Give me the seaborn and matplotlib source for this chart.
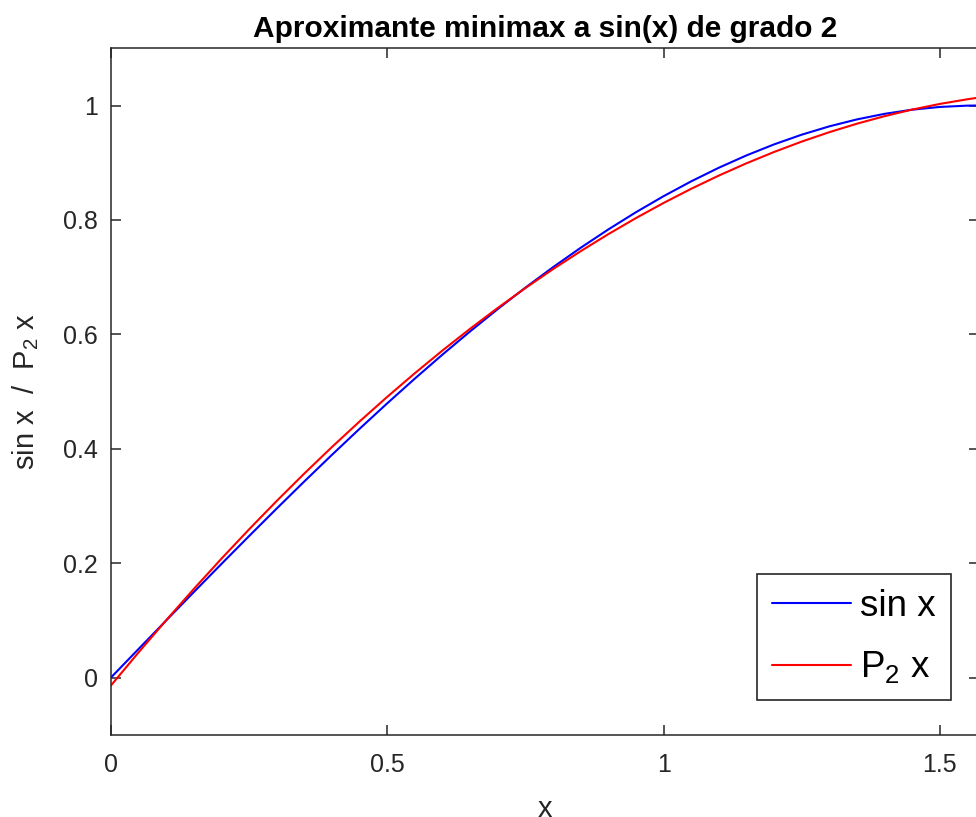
import matplotlib
matplotlib.use("Agg")
import matplotlib.pyplot as plt
import pandas as pd
import seaborn as sns

# ---- data ----
x_vals = [0.00, 0.05, 0.10, 0.15, 0.20, 0.25, 0.30, 0.35, 0.40, 0.45, 0.50,
          0.55, 0.60, 0.65, 0.70, 0.75, 0.80, 0.85, 0.90, 0.95, 1.00, 1.05,
          1.10, 1.15, 1.20, 1.25, 1.30, 1.35, 1.40, 1.45, 1.50, 1.55, 1.5708]
sin_vals = [0.00000, 0.04998, 0.09983, 0.14944, 0.19867, 0.24740, 0.29552,
            0.34290, 0.38942, 0.43497, 0.47943, 0.52269, 0.56464, 0.60519,
            0.64422, 0.68164, 0.71736, 0.75128, 0.78333, 0.81342, 0.84147,
            0.86742, 0.89121, 0.91276, 0.93204, 0.94898, 0.96356, 0.97572,
            0.98545, 0.99271, 0.99749, 0.99978, 1.00000]
p2_vals = [-0.01388, 0.04404, 0.10030, 0.15491, 0.20786, 0.25915, 0.30878,
           0.35676, 0.40308, 0.44774, 0.49075, 0.53209, 0.57178, 0.60981,
           0.64618, 0.68090, 0.71396, 0.74536, 0.77510, 0.80319, 0.82962,
           0.85439, 0.87751, 0.89896, 0.91876, 0.93691, 0.95339, 0.96822,
           0.98139, 0.99290, 1.00276, 1.01095, 1.01386]
series_labels = ["sin x", r"$\mathregular{P_2}$ x"]
x_ticks = [0, 0.5, 1, 1.5]
x_tick_labels = ["0", "0.5", "1", "1.5"]
y_ticks = [0, 0.2, 0.4, 0.6, 0.8, 1]
y_tick_labels = ["0", "0.2", "0.4", "0.6", "0.8", "1"]
x_limits = (0, 1.5708)
y_limits = (-0.1, 1.1)
title_text = "Aproximante minimax a sin(x) de grado 2"
x_label = "x"
y_label = r"sin x  /  $\mathregular{P_2}$ x"
line_colors = ["#0000ff", "#ff0000"]

n = len(x_vals)
df = pd.DataFrame({
    "x": x_vals + x_vals,
    "y": sin_vals + p2_vals,
    "serie": [series_labels[0]] * n + [series_labels[1]] * n,
})

sns.set_style("ticks")
plt.rcParams["font.family"] = ["Liberation Sans", "DejaVu Sans"]
plt.rcParams["mathtext.fontset"] = "custom"
plt.rcParams["mathtext.rm"] = "Liberation Sans"
plt.rcParams["mathtext.it"] = "Liberation Sans:italic"
plt.rcParams["mathtext.bf"] = "Liberation Sans:bold"

dark = "#262626"
W, H = 976, 817
fig = plt.figure(figsize=(W / 100, H / 100), dpi=100)
fig.patch.set_facecolor("white")
ax = fig.add_axes([111 / W, 82.3 / H, 868 / W, 686.4 / H])

sns.lineplot(data=df, x="x", y="y", hue="serie", palette=line_colors,
             linewidth=1.5, ax=ax, sort=False, estimator=None)

ax.set_xlim(*x_limits)
ax.set_ylim(*y_limits)
ax.set_xticks(x_ticks)
ax.set_xticklabels(x_tick_labels)
ax.set_yticks(y_ticks)
ax.set_yticklabels(y_tick_labels)

for s in ax.spines.values():
    s.set_color(dark)
    s.set_linewidth(1.1)
    s.set_visible(True)

ax.tick_params(axis="both", direction="in", length=7, width=1.1,
               colors=dark, labelsize=18, top=True, right=True)
ax.tick_params(axis="y", pad=9.4)
ax.tick_params(axis="x", pad=13)

ax.set_title(title_text, fontsize=21.5, fontweight="bold", color="black", pad=8)
ax.set_xlabel(x_label, fontsize=21, color=dark, labelpad=13)
ax.set_ylabel(y_label, fontsize=21, color=dark, labelpad=16)

leg = ax.legend(loc="upper left", bbox_to_anchor=(757 / W, 1 - 574 / H),
                bbox_transform=fig.transFigure, fontsize=26.5, frameon=True,
                fancybox=False, shadow=False, framealpha=1, edgecolor=dark,
                handlelength=2.16, handletextpad=0.25, labelspacing=0.7,
                borderpad=0.4, borderaxespad=0)
leg.get_frame().set_linewidth(1.2)
for line in leg.get_lines():
    line.set_linewidth(1.5)
for t in leg.get_texts():
    t.set_color("black")

fig.savefig("out.png", dpi=100, facecolor="white")
